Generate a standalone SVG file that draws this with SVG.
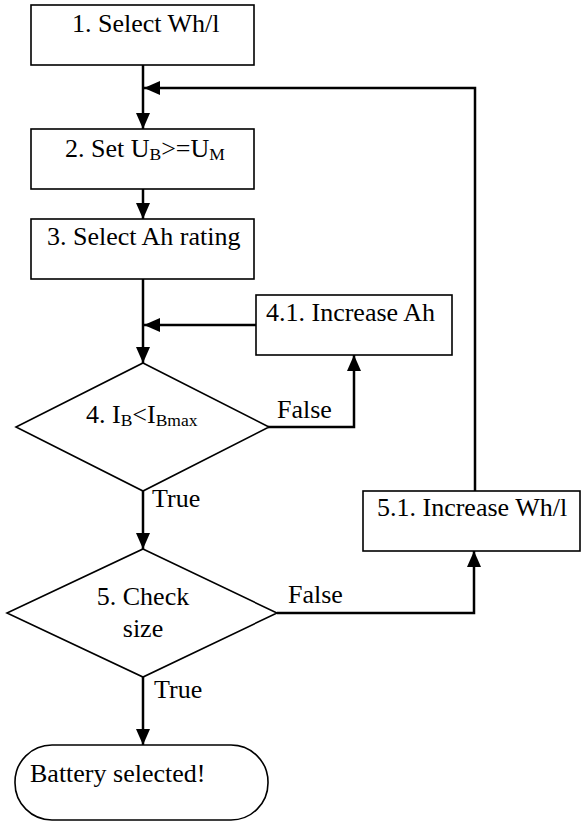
<svg xmlns="http://www.w3.org/2000/svg" width="581" height="822" viewBox="0 0 581 822">
<style>
.box{fill:#fff;stroke:#000;stroke-width:1.6}
.t{font-family:'Liberation Serif',serif;font-size:26px;fill:#000}
.s{font-size:17.5px}
.c{fill:none;stroke:#000;stroke-width:2.5;marker-end:url(#ah)}
</style>
<defs>
<marker id="ah" markerUnits="userSpaceOnUse" markerWidth="16" markerHeight="14" refX="16" refY="7" orient="auto">
<path d="M0,0 L16,7 L0,14 z" fill="#000"/>
</marker>
</defs>
<rect width="581" height="822" fill="#fff"/>
<g id="connectors">
<path class="c" d="M143,65 V129"/>
<path class="c" d="M475,491 V88 H144"/>
<path class="c" d="M143,189 V219"/>
<path class="c" d="M143,279 V363"/>
<path class="c" d="M256,325 H144"/>
<path class="c" d="M268,427 H354 V355"/>
<path class="c" d="M143,491 V549"/>
<path class="c" d="M277,613 H474 V551"/>
<path class="c" d="M143,677 V745"/>
<text class="t" x="277" y="418">False</text>
<text class="t" x="152" y="507">True</text>
<text class="t" x="288" y="603">False</text>
<text class="t" x="154" y="698">True</text>
</g>
<g id="n1">
<rect class="box" x="31" y="5" width="223" height="60"/>
<text class="t" x="72" y="32">1. Select Wh/l</text>
</g>
<g id="n2">
<rect class="box" x="31" y="129" width="223" height="60"/>
<text class="t" x="65" y="157">2. Set U<tspan class="s" dy="3">B</tspan><tspan dy="-3">&gt;=U</tspan><tspan class="s" dy="3">M</tspan></text>
</g>
<g id="n3">
<rect class="box" x="31" y="219" width="223" height="60"/>
<text class="t" x="47" y="245">3. Select Ah rating</text>
</g>
<g id="n41">
<rect class="box" x="256" y="295" width="196" height="60"/>
<text class="t" x="266" y="321">4.1. Increase Ah</text>
</g>
<g id="n4">
<polygon class="box" points="143,363 269,427 143,491 16,427"/>
<text class="t" x="86" y="423">4. I<tspan class="s" dy="3">B</tspan><tspan dy="-3">&lt;I</tspan><tspan class="s" dy="3">Bmax</tspan></text>
</g>
<g id="n51">
<rect class="box" x="363" y="491" width="217" height="60"/>
<text class="t" x="377" y="516">5.1. Increase Wh/l</text>
</g>
<g id="n5">
<polygon class="box" points="143,549 277,613 143,677 7,613"/>
<text class="t" x="143" y="605" text-anchor="middle">5. Check</text>
<text class="t" x="143" y="637" text-anchor="middle">size</text>
</g>
<g id="end">
<rect class="box" x="15" y="745" width="253" height="75" rx="37" ry="37"/>
<text class="t" x="30" y="782">Battery selected!</text>
</g>
</svg>
